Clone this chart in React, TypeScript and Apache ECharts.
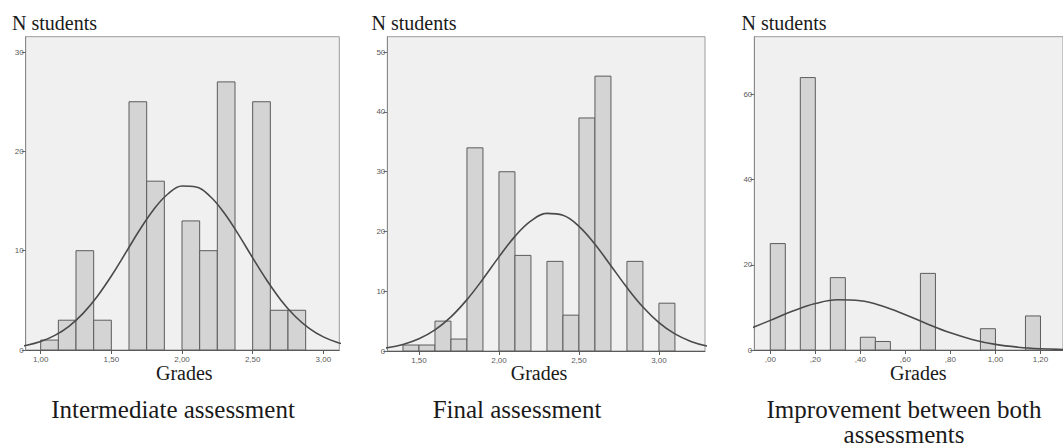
import React, { useEffect, useRef } from "react";
import * as echarts from "echarts";

// ---------- Data ----------
// Intermediate assessment histogram (bin width 0.125)
const intermBinWidth = 0.125;
const intermBinStarts = [1.0, 1.125, 1.25, 1.375, 1.625, 1.75, 2.0, 2.125, 2.25, 2.5, 2.625, 2.75];
const intermCounts = [1, 3, 10, 3, 25, 17, 13, 10, 27, 25, 4, 4];
const intermCurveX = [0.8, 0.9, 1.0, 1.1, 1.2, 1.3, 1.4, 1.5, 1.6, 1.7, 1.8, 1.9, 2.0, 2.1, 2.2, 2.3, 2.4, 2.5, 2.6, 2.7, 2.8, 2.9, 3.0, 3.1, 3.2];
const intermCurveY = [0.24, 0.47, 0.85, 1.47, 2.39, 3.69, 5.39, 7.45, 9.75, 12.08, 14.16, 15.71, 16.51, 16.42, 15.46, 13.77, 11.62, 9.28, 7.02, 5.02, 3.4, 2.18, 1.32, 0.76, 0.41];
const intermXTicks = [1.0, 1.5, 2.0, 2.5, 3.0];
const intermYTicks = [0, 10, 20, 30];

// Final assessment histogram (bin width 0.1)
const finalBinWidth = 0.1;
const finalBinStarts = [1.4, 1.5, 1.6, 1.7, 1.8, 2.0, 2.1, 2.3, 2.4, 2.5, 2.6, 2.8, 3.0];
const finalCounts = [1, 1, 5, 2, 34, 30, 16, 15, 6, 39, 46, 15, 8];
const finalCurveX = [1.2, 1.3, 1.4, 1.5, 1.6, 1.7, 1.8, 1.9, 2.0, 2.1, 2.2, 2.3, 2.4, 2.5, 2.6, 2.7, 2.8, 2.9, 3.0, 3.1, 3.2, 3.3, 3.4];
const finalCurveY = [0.26, 0.55, 1.1, 2.05, 3.54, 5.72, 8.6, 12.05, 15.75, 19.18, 21.77, 23.03, 22.71, 20.87, 17.87, 14.27, 10.62, 7.37, 4.76, 2.87, 1.61, 0.84, 0.41];
const finalXTicks = [1.5, 2.0, 2.5, 3.0];
const finalYTicks = [0, 10, 20, 30, 40, 50];

// Improvement histogram (bin width 1/15)
const improvBinWidth = 0.0667;
const improvBinStarts = [0.0, 0.1333, 0.2667, 0.4, 0.4667, 0.6667, 0.9333, 1.1333];
const improvCounts = [25, 64, 17, 3, 2, 18, 5, 8];
const improvCurveX = [-0.1, 0.0, 0.1, 0.2, 0.3, 0.4, 0.5, 0.6, 0.7, 0.8, 0.9, 1.0, 1.1, 1.2, 1.3, 1.4];
const improvCurveY = [4.8, 6.96, 9.15, 10.91, 11.8, 11.57, 10.29, 8.3, 6.07, 4.03, 2.43, 1.32, 0.66, 0.29, 0.12, 0.04];
const improvXTicks = [0.0, 0.2, 0.4, 0.6, 0.8, 1.0, 1.2];
const improvYTicks = [0, 20, 40, 60];

const yLabel = "N students";
const xLabel = "Grades";
const titles = ["Intermediate assessment", "Final assessment", "Improvement between both\nassessments"];

// ---------- Styles ----------
const SERIF = "Liberation Serif, Times New Roman, serif";
const SANS = "Liberation Sans, Arial, sans-serif";
const BAR_FILL = "#d4d4d4";
const BAR_STROKE = "#5c5c5c";
const CURVE = "#4a4a4a";
const TICK_TEXT = "#5a5a5a";

const fmtGrade = (v: number) => v.toFixed(2).replace(".", ",");
const fmtShort = (v: number) => {
  const s = v.toFixed(2).replace(".", ",");
  return s.startsWith("0,") ? s.slice(1) : s;
};

export default function App() {
  const ref = useRef<HTMLDivElement>(null);

  useEffect(() => {
    if (!ref.current) return;
    document.body.style.margin = "0";
    const chart = echarts.init(ref.current, undefined, { renderer: "svg" });

    const panels = [
      {
        grid: { left: 25.7, top: 36.7, width: 313.6, height: 313.3 },
        xMin: 0.894, xMax: 3.113, yMax: 31.55,
        starts: intermBinStarts, counts: intermCounts, bw: intermBinWidth,
        cx: intermCurveX, cy: intermCurveY, xt: intermXTicks, yt: intermYTicks, fmt: fmtGrade,
      },
      {
        grid: { left: 387.3, top: 36.7, width: 317.7, height: 314.3 },
        xMin: 1.302, xMax: 3.288, yMax: 52.6,
        starts: finalBinStarts, counts: finalCounts, bw: finalBinWidth,
        cx: finalCurveX, cy: finalCurveY, xt: finalXTicks, yt: finalYTicks, fmt: fmtGrade,
      },
      {
        grid: { left: 754.3, top: 36.7, width: 323.5, height: 313.3 },
        xMin: -0.071, xMax: 1.3, yMax: 73.6,
        starts: improvBinStarts, counts: improvCounts, bw: improvBinWidth,
        cx: improvCurveX, cy: improvCurveY, xt: improvXTicks, yt: improvYTicks, fmt: fmtShort,
      },
    ];

    const grids: any[] = [];
    const xAxes: any[] = [];
    const yAxes: any[] = [];
    const series: any[] = [];

    panels.forEach((p, i) => {
      grids.push({
        ...p.grid,
        show: true,
        backgroundColor: "#f0f0f0",
        borderColor: "#9c9c9c",
        borderWidth: 1,
        containLabel: false,
      });
      xAxes.push({
        type: "value",
        gridIndex: i,
        min: p.xMin,
        max: p.xMax,
        axisLine: { show: true, onZero: false, lineStyle: { color: "#5a5a5a", width: 1 } },
        axisTick: { show: true, customValues: p.xt, length: 4, lineStyle: { color: "#5a5a5a" } },
        axisLabel: {
          customValues: p.xt,
          formatter: (v: number) => p.fmt(v),
          fontSize: 8,
          color: TICK_TEXT,
          fontFamily: SANS,
          margin: 5,
        },
        splitLine: { show: false },
      });
      yAxes.push({
        type: "value",
        gridIndex: i,
        min: 0,
        max: p.yMax,
        axisLine: { show: true, onZero: false, lineStyle: { color: "#8a8a8a", width: 1 } },
        axisTick: { show: true, customValues: p.yt, length: 4, lineStyle: { color: "#6a6a6a" } },
        axisLabel: {
          customValues: p.yt,
          fontSize: 8,
          color: TICK_TEXT,
          fontFamily: SANS,
          margin: 2,
        },
        splitLine: { show: false },
      });
      series.push({
        type: "custom",
        xAxisIndex: i,
        yAxisIndex: i,
        encode: { x: [0, 1], y: 2 },
        data: p.starts.map((s, k) => [s, s + p.bw, p.counts[k]]),
        renderItem: (_params: any, api: any) => {
          const x0 = api.value(0);
          const x1 = api.value(1);
          const y = api.value(2);
          const a = api.coord([x0, y]);
          const b = api.coord([x1, 0]);
          return {
            type: "rect",
            shape: { x: a[0], y: a[1], width: b[0] - a[0], height: b[1] - a[1] },
            style: { fill: BAR_FILL, stroke: BAR_STROKE, lineWidth: 1 },
          };
        },
        z: 2,
      });
      series.push({
        type: "line",
        xAxisIndex: i,
        yAxisIndex: i,
        data: p.cx.map((x, k) => [x, p.cy[k]]),
        smooth: 0.4,
        showSymbol: false,
        symbol: "none",
        clip: true,
        lineStyle: { color: CURVE, width: 1.6 },
        z: 3,
      });
    });

    const text = (t: string, x: number, y: number, size: number, align: string = "left") => ({
      type: "text",
      x,
      y,
      silent: true,
      style: {
        text: t,
        fill: "#1a1a1a",
        fontFamily: SERIF,
        fontSize: size,
        align,
        verticalAlign: "middle",
        lineHeight: 25,
      },
    });

    const graphic: any[] = [
      text(yLabel, 12, 22.5, 20),
      text(yLabel, 371.5, 22.5, 20),
      text(yLabel, 741.5, 22.5, 20),
      text(xLabel, 184.3, 373.3, 20, "center"),
      text(xLabel, 539, 373.3, 20, "center"),
      text(xLabel, 918.3, 373.3, 20, "center"),
      text(titles[0], 173, 409.9, 25, "center"),
      text(titles[1], 517, 409.9, 25, "center"),
      text(titles[2], 904, 421.5, 25, "center"),
    ];

    chart.setOption({
      animation: false,
      backgroundColor: "#ffffff",
      grid: grids,
      xAxis: xAxes,
      yAxis: yAxes,
      series,
      graphic,
    });

    return () => chart.dispose();
  }, []);

  return (
    <div
      ref={ref}
      style={{ position: "absolute", left: 0, top: 0, width: 1063, height: 448 }}
    />
  );
}
